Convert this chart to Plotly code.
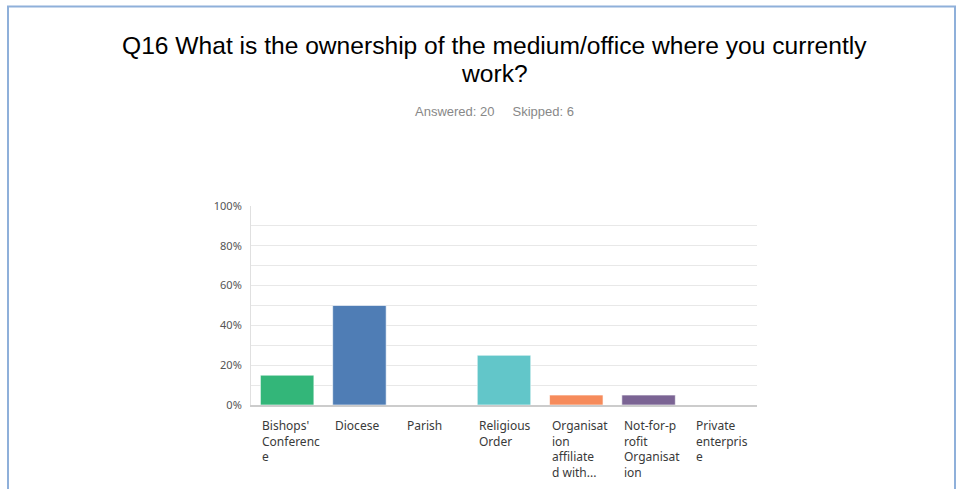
import plotly.graph_objects as go

# Survey question Q16: share of respondents per ownership type
categories = [
    "Bishops' Conference",
    "Diocese",
    "Parish",
    "Religious Order",
    "Organisation affiliated with...",
    "Not-for-profit Organisation",
    "Private enterprise",
]
# wrapped label text as displayed under each column
label_lines = [
    ["Bishops'", "Conferenc", "e"],
    ["Diocese"],
    ["Parish"],
    ["Religious", "Order"],
    ["Organisat", "ion", "affiliate", "d with..."],
    ["Not-for-p", "rofit", "Organisat", "ion"],
    ["Private", "enterpris", "e"],
]
percent = [15, 50, 0, 25, 5, 5, 0]
colors = ["#33b679", "#4f7db5", "#f9be00", "#62c6c9", "#f68b5b", "#7b6494", "#a8ad00"]
y_ticks = [0, 20, 40, 60, 80, 100]
title_lines = ["Q16 What is the ownership of the medium/office where you currently", "work?"]
subtitle_text = "Answered: 20&nbsp;&nbsp;&nbsp;&nbsp;&nbsp;Skipped: 6"

W, H = 962, 489
x0_px, x1_px = 251, 757
y0_px, y1_px = 405, 206

fig = go.Figure()
fig.add_trace(go.Bar(
    x=list(range(len(categories))),
    y=percent,
    marker=dict(color=colors, line=dict(color="rgba(255,255,255,0.6)", width=1)),
    width=0.74,
    hoverinfo="skip",
))

annotations = []
for i, lines in enumerate(label_lines):
    annotations.append(dict(
        x=i - 0.37, xref="x", xanchor="left",
        y=(H - 415) / H, yref="paper", yanchor="top",
        text="<br>".join(lines), showarrow=False, align="left",
        font=dict(family="Noto Sans", size=12, color="#3a3a3a"),
    ))

# title, one annotation per line for tighter line spacing
for line, y_px in zip(title_lines, [46, 73]):
    annotations.append(dict(
        x=494 / W, xref="paper", xanchor="center",
        y=(H - y_px) / H, yref="paper", yanchor="middle",
        text=line, showarrow=False, align="center",
        font=dict(family="Liberation Sans", size=24.6, color="#000000"),
    ))
annotations.append(dict(
    x=494 / W, xref="paper", xanchor="center",
    y=(H - 112) / H, yref="paper", yanchor="middle",
    text=subtitle_text, showarrow=False,
    font=dict(family="Liberation Sans", size=13, color="#888888"),
))

fig.update_layout(
    width=W, height=H,
    margin=dict(l=0, r=0, t=0, b=0),
    paper_bgcolor="white", plot_bgcolor="white",
    showlegend=False,
    annotations=annotations,
    shapes=[dict(
        type="path", xref="paper", yref="paper",
        path=f"M {8/W},0 L {8/W},{(H-6.5)/H} L {955/W},{(H-6.5)/H} L {955/W},0",
        line=dict(color="#8fb0da", width=2),
    )],
    xaxis=dict(
        domain=[x0_px / W, x1_px / W],
        range=[-0.5, len(categories) - 0.5],
        showticklabels=False, showgrid=False, zeroline=False,
        showline=True, linecolor="#cccccc", linewidth=2,
        fixedrange=True, automargin=False,
    ),
    yaxis=dict(
        domain=[(H - y0_px) / H, (H - y1_px) / H],
        range=[0, 100],
        tickvals=list(range(0, 101, 10)),
        ticktext=[f"{v}%" if v in y_ticks else "" for v in range(0, 101, 10)],
        tickfont=dict(family="Noto Sans", size=11, color="#555555"),
        showgrid=True, gridcolor="#e8e8e8", gridwidth=1,
        zeroline=False, showline=True, linecolor="#e0e0e0", linewidth=1,
        ticks="", ticklabelstandoff=6,
        fixedrange=True, automargin=False,
    ),
)

fig.write_html("out.html")
